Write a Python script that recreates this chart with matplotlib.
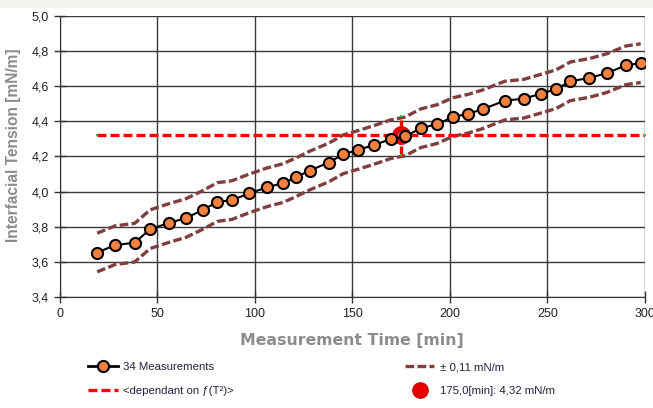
import matplotlib
matplotlib.use("Agg")
import matplotlib.pyplot as plt
from matplotlib.lines import Line2D
from matplotlib.ticker import FuncFormatter, MultipleLocator

plt.rcParams['font.family'] = ['Liberation Sans', 'DejaVu Sans']

# measurement series
time_min = [19.2, 28.5, 38.4, 46.4, 55.8, 64.7, 73.5, 80.7, 88.2, 97.1,
            106.0, 114.5, 121.3, 128.1, 137.9, 145.4, 153.1, 161.1, 169.8, 176.9,
            185.1, 193.3, 201.5, 209.5, 216.9, 228.1, 237.9, 246.8, 254.4, 261.8,
            271.5, 280.3, 290.3, 297.8]
tension = [3.653, 3.695, 3.709, 3.786, 3.820, 3.849, 3.896, 3.940, 3.951, 3.989,
           4.023, 4.048, 4.082, 4.119, 4.165, 4.212, 4.237, 4.265, 4.298, 4.313,
           4.360, 4.383, 4.423, 4.443, 4.468, 4.517, 4.528, 4.557, 4.582, 4.627,
           4.646, 4.673, 4.718, 4.730]
tol = 0.11

# evaluated point
t_eval = 175.0
v_eval = 4.32
line_start = 19.2
line_end = 300

upper = [v + tol for v in tension]
lower = [v - tol for v in tension]

band_color = '#7f3f3f'
band_dash = (2.6, 1.0)
red_dash = (2.7, 1.2)

fig = plt.figure(figsize=(6.53, 4.08), dpi=100)
ax = fig.add_axes([59.7 / 653, 1 - 297 / 408, (645 - 59.7) / 653, (297 - 15.7) / 408])

# light strip of the header above the chart
fig.patches.append(plt.Rectangle((0, 1 - 7 / 408), 1, 7 / 408, transform=fig.transFigure,
                                 color='#f5f5f0', zorder=0))

ax.set_xlim(0, 300)
ax.set_ylim(3.4, 5.0)
ax.xaxis.set_major_locator(MultipleLocator(50))
ax.yaxis.set_major_locator(MultipleLocator(0.2))
ax.yaxis.set_major_formatter(FuncFormatter(lambda v, p: f'{v:.1f}'.replace('.', ',')))

ax.grid(True, color='#3a3a3a', linewidth=1)
for s in ax.spines.values():
    s.set_visible(False)
ax.spines['left'].set_visible(True)
ax.spines['bottom'].set_visible(True)
ax.spines['left'].set_color('#333333')
ax.spines['bottom'].set_color('#333333')
ax.tick_params(direction='inout', length=8, width=1, color='#333333',
               labelsize=9, labelcolor='#222222', pad=4)

# tolerance bands
ax.plot(time_min, upper, color=band_color, lw=2.4, dashes=band_dash, zorder=3)
ax.plot(time_min, lower, color=band_color, lw=2.4, dashes=band_dash, zorder=3)

# target line and error bar at the evaluated point
ax.plot([line_start, line_end], [v_eval, v_eval], color='#ff0000', lw=2.4,
        dashes=red_dash, zorder=4)
ax.plot([line_start, line_end], [v_eval, v_eval], 's', ms=2, color='#22cc22',
        mew=0, zorder=5)
ax.plot([t_eval, t_eval], [v_eval - tol, v_eval + tol], color='#ff0000', lw=2.4,
        dashes=red_dash, zorder=4)
ax.plot([t_eval, t_eval], [v_eval - tol, v_eval + tol], 's', ms=2, color='#22cc22',
        mew=0, zorder=5)

# red ball
ax.plot(t_eval, v_eval, 'o', ms=13, mfc='#e80000', mec='#d00000', mew=0.5, zorder=5)
ax.plot(t_eval, v_eval, 'o', ms=5, mfc='#ff9c9c', mec='none', alpha=0.8, zorder=5)

# measurements
ax.plot(time_min, tension, color='black', lw=1.5, marker='o', ms=8,
        mfc='#f5813f', mec='black', mew=1.5, zorder=6)

ax.set_xlabel('Measurement Time [min]', fontsize=11.3, fontweight='bold',
              color='#8c8c8c', family='DejaVu Sans', labelpad=9)
ax.set_ylabel('Interfacial Tension [mN/m]', fontsize=11.2, fontweight='bold',
              color='#8c8c8c')
ax.yaxis.set_label_coords(-0.066, 0.54)

handles = [
    Line2D([], [], color='black', lw=2, marker='o', ms=8, mfc='#f5813f', mec='black', mew=1.5),
    Line2D([], [], color='#ff0000', lw=2.4, dashes=red_dash),
    Line2D([], [], color=band_color, lw=2.4, dashes=band_dash),
    Line2D([], [], ls='none', marker='o', ms=11, mfc='#e80000', mec='#d00000'),
]
labels = ['34 Measurements', '<dependant on ƒ(T²)>', '± 0,11 mN/m', '175,0[min]: 4,32 mN/m']
fig.legend(handles, labels, loc='upper left', bbox_to_anchor=(88 / 653, 1 - 362 / 408),
           ncol=2, frameon=False, fontsize=8.2, handlelength=2.6, handletextpad=0.5,
           columnspacing=15, labelspacing=1.25, borderpad=0, borderaxespad=0,
           labelcolor='#222244')

fig.savefig('out.png', dpi=100)
